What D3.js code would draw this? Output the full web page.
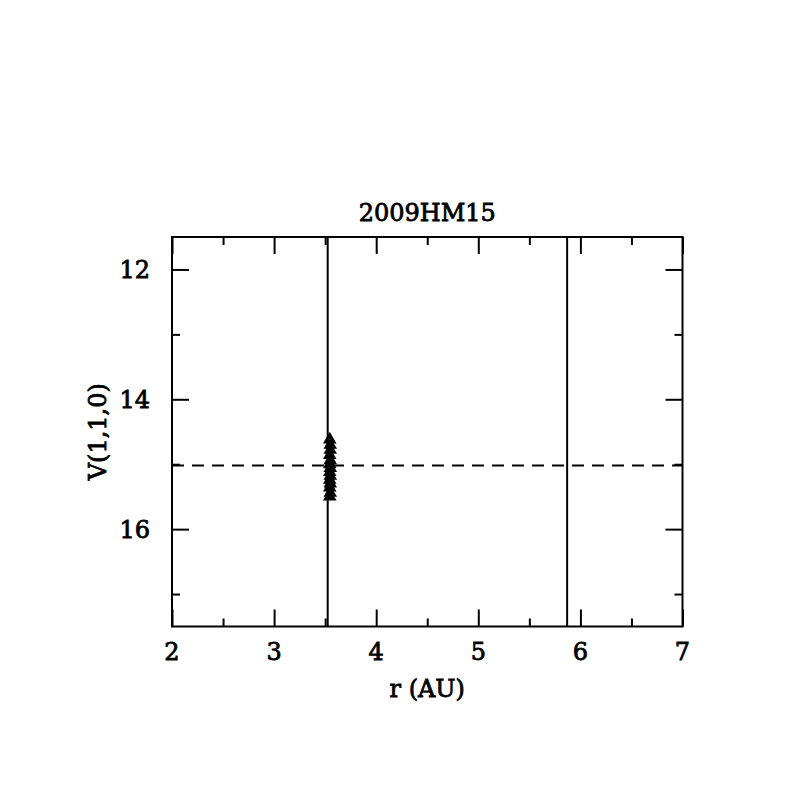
<!DOCTYPE html>
<html>
<head>
<meta charset="utf-8">
<script src="https://cdn.jsdelivr.net/npm/d3@7"></script>
<style>
  body { margin: 0; background: #fff; }
  text { font-family: "DejaVu Serif", "Liberation Serif", serif; fill: #000; stroke: #000; stroke-width: 0.8px; }
</style>
</head>
<body>
<svg id="chart" width="797" height="797"></svg>
<script>
// data
const title = '2009HM15';
const xTicks = [2, 3, 4, 5, 6, 7];
const yTicks = [12, 14, 16];
const obsR = [3.545, 3.55, 3.55, 3.545, 3.55, 3.545, 3.55, 3.545, 3.55, 3.545, 3.55, 3.545, 3.55, 3.545];
const obsV = [14.62, 14.7, 14.78, 14.86, 14.94, 15.0, 15.06, 15.12, 15.18, 15.24, 15.3, 15.36, 15.44, 15.5];
const vLines = [3.525, 5.87];
const hLine = 15.02;

const svg = d3.select('#chart');
const margin = { left: 172, top: 237, right: 797 - 682.5, bottom: 797 - 626.5 };
const w = 797 - margin.left - margin.right,
    h = 797 - margin.top - margin.bottom;

const x = d3.scaleLinear().domain([2, 7]).range([0, w]);
const y = d3.scaleLinear().domain([11.5, 17.5]).range([0, h]);

const g = svg.append('g')
    .attr('transform', 'translate(' + margin.left + ',' + margin.top + ')');

// ticks on all four sides, minor ones at half steps
function ticks(axis, scale, len) {
    return axis(scale).tickSize(len).tickFormat('').tickSizeOuter(0);
}
const xMaj = d3.range(2, 7.01, 1), xMin = d3.range(2.5, 7, 1);
const yMaj = d3.range(12, 17.01, 2), yMin = d3.range(13, 17.6, 2);

function axisDecor(sel) {
    sel.select('.domain').remove();
    sel.selectAll('line').attr('stroke', '#000').attr('stroke-width', 2);
}

g.append('g').attr('transform', 'translate(0,' + h + ')')
    .call(ticks(d3.axisTop, x, 17).tickValues(xMaj)).call(axisDecor);
g.append('g').attr('transform', 'translate(0,' + h + ')')
    .call(ticks(d3.axisTop, x, 8).tickValues(xMin)).call(axisDecor);
g.append('g')
    .call(ticks(d3.axisBottom, x, 17).tickValues(xMaj)).call(axisDecor);
g.append('g')
    .call(ticks(d3.axisBottom, x, 8).tickValues(xMin)).call(axisDecor);
g.append('g')
    .call(ticks(d3.axisRight, y, 17).tickValues(yMaj)).call(axisDecor);
g.append('g')
    .call(ticks(d3.axisRight, y, 8).tickValues(yMin)).call(axisDecor);
g.append('g').attr('transform', 'translate(' + w + ',0)')
    .call(ticks(d3.axisLeft, y, 17).tickValues(yMaj)).call(axisDecor);
g.append('g').attr('transform', 'translate(' + w + ',0)')
    .call(ticks(d3.axisLeft, y, 8).tickValues(yMin)).call(axisDecor);

// frame
g.append('rect')
    .attr('width', w).attr('height', h)
    .attr('fill', 'none').attr('stroke', '#000').attr('stroke-width', 2);

// tick labels
g.selectAll('.xlab').data(xTicks).enter().append('text')
    .attr('x', d => x(d)).attr('y', h + 33)
    .attr('text-anchor', 'middle')
    .style('font-size', '24px')
    .text(d => d);
g.selectAll('.ylab').data(yTicks).enter().append('text')
    .attr('x', -22).attr('y', d => y(d) + 9)
    .attr('text-anchor', 'end')
    .style('font-size', '24px')
    .text(d => d);

// reference lines
g.selectAll('.vline').data(vLines).enter().append('line')
    .attr('x1', d => x(d)).attr('x2', d => x(d))
    .attr('y1', 0).attr('y2', h)
    .attr('stroke', '#000').attr('stroke-width', 2);
g.append('line')
    .attr('x1', 0).attr('x2', w)
    .attr('y1', y(hLine)).attr('y2', y(hLine))
    .attr('stroke', '#000').attr('stroke-width', 2)
    .attr('stroke-dasharray', '12,8');

// points
const tri = d3.symbol().type(d3.symbolTriangle).size(80);
g.selectAll('.pt').data(obsV).enter().append('path')
    .attr('d', tri)
    .attr('transform', (d, i) => 'translate(' + x(obsR[i]) + ',' + y(d) + ')')
    .attr('fill', '#000');

// titles
svg.append('text')
    .attr('x', margin.left + w / 2).attr('y', 221)
    .attr('text-anchor', 'middle')
    .style('font-size', '24px')
    .text(title);
svg.append('text')
    .attr('x', margin.left + w / 2).attr('y', 697)
    .attr('text-anchor', 'middle')
    .style('font-size', '24px')
    .text('r (AU)');
svg.append('text')
    .attr('transform', 'translate(106,' + (margin.top + h / 2) + ') rotate(-90)')
    .attr('text-anchor', 'middle')
    .style('font-size', '24px')
    .text('V(1,1,0)');
</script>
</body>
</html>
